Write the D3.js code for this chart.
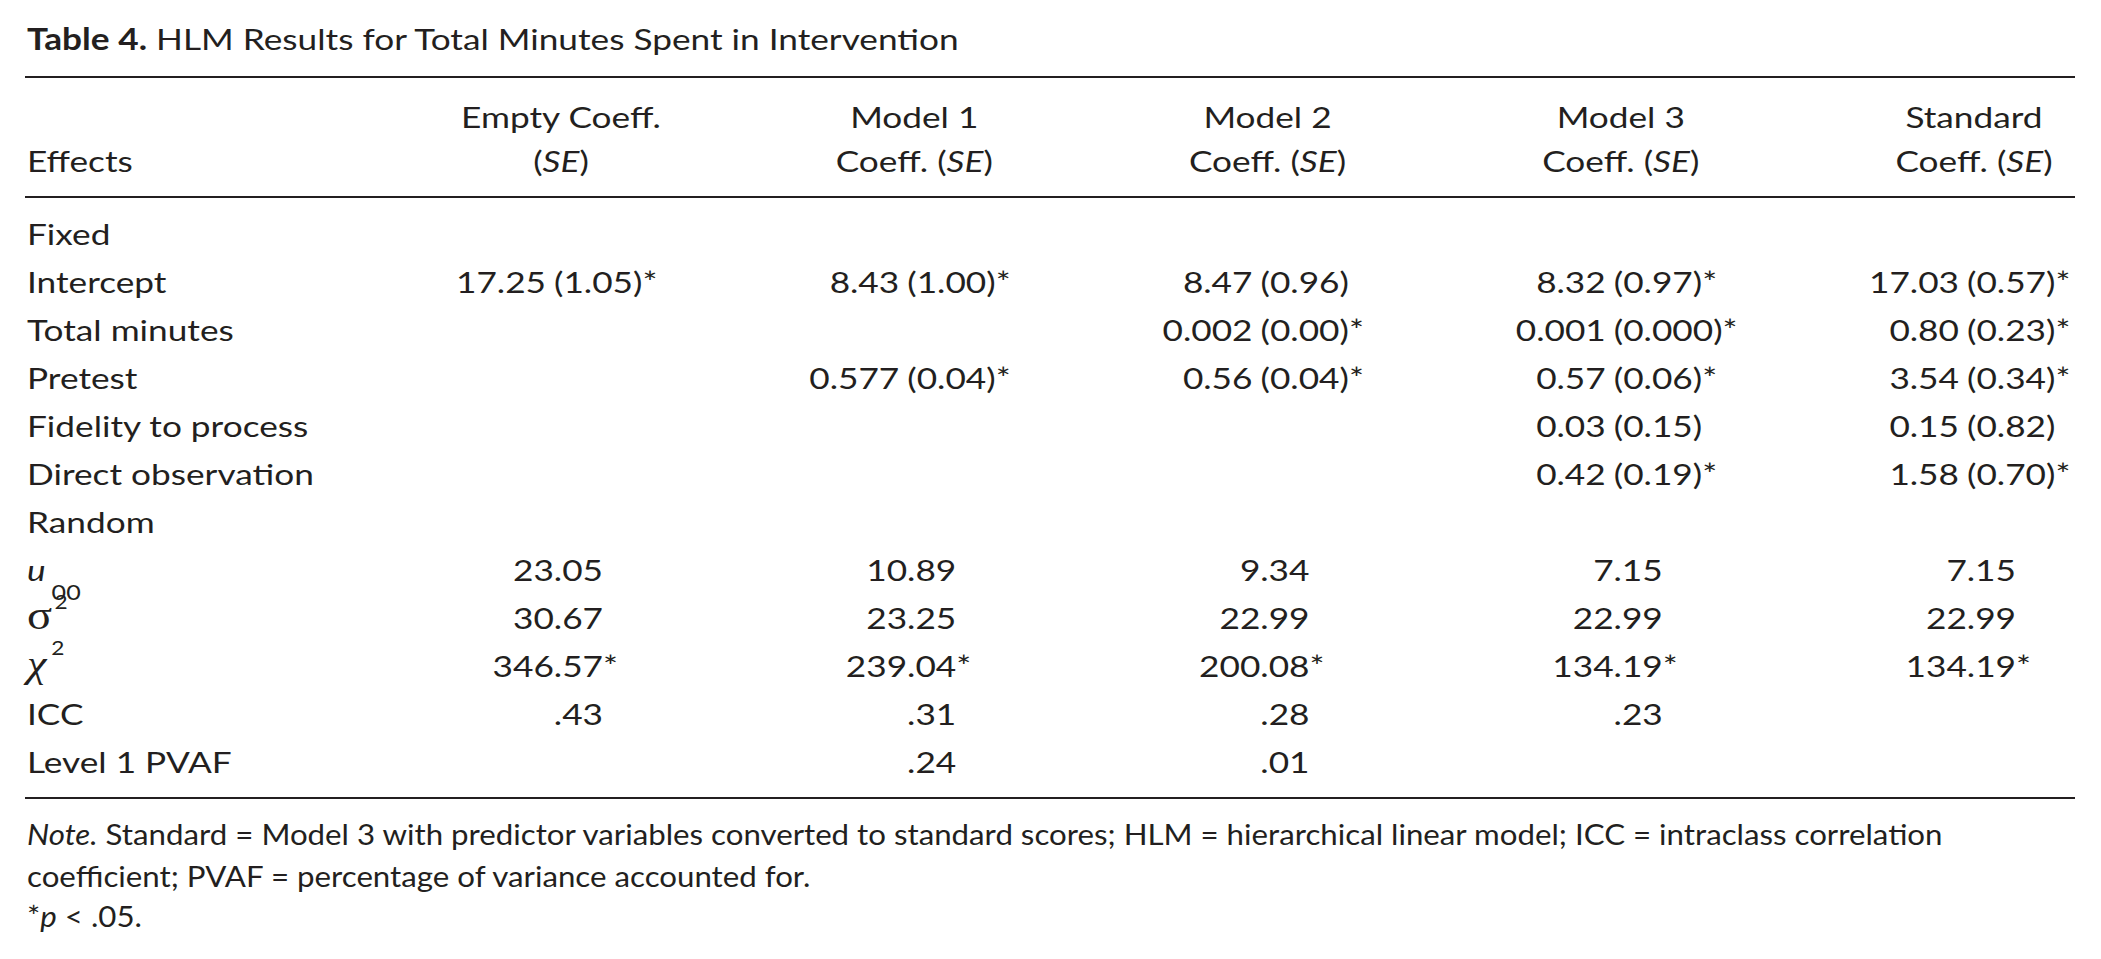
<!DOCTYPE html>
<html><head><meta charset="utf-8">
<script src="https://cdn.jsdelivr.net/npm/d3@7"></script>
<style>
html,body{margin:0;padding:0;background:#fff;}
svg{display:block;}
text{font-family:Lato,"Open Sans",sans-serif;fill:#231f20;}
</style>
</head><body><div id="chart"></div>
<script>
// ---------- data ----------
const titleBold = "Table 4.";
const titleRest = " HLM Results for Total Minutes Spent in Intervention";
const columns = ["Empty", "Model 1", "Model 2", "Model 3", "Standard"];
const headerTop = ["Empty Coeff.", "Model 1", "Model 2", "Model 3", "Standard"];
const headerBottom = ["", "Coeff. ", "Coeff. ", "Coeff. ", "Coeff. "];
const rowKeys = ["Fixed", "Intercept", "Total minutes", "Pretest", "Fidelity to process",
  "Direct observation", "Random", "u00", "sigma2", "chi2", "ICC", "Level 1 PVAF"];
const intercept = ["17.25 (1.05)*", "8.43 (1.00)*", "8.47 (0.96)", "8.32 (0.97)*", "17.03 (0.57)*"];
const totalMinutes = ["", "", "0.002 (0.00)*", "0.001 (0.000)*", "0.80 (0.23)*"];
const pretest = ["", "0.577 (0.04)*", "0.56 (0.04)*", "0.57 (0.06)*", "3.54 (0.34)*"];
const fidelity = ["", "", "", "0.03 (0.15)", "0.15 (0.82)"];
const directObs = ["", "", "", "0.42 (0.19)*", "1.58 (0.70)*"];
const u00 = ["23.05", "10.89", "9.34", "7.15", "7.15"];
const sigma2 = ["30.67", "23.25", "22.99", "22.99", "22.99"];
const chi2 = ["346.57*", "239.04*", "200.08*", "134.19*", "134.19*"];
const icc = [".43", ".31", ".28", ".23", ""];
const pvaf = ["", ".24", ".01", "", ""];
const noteLine1 = " Standard = Model 3 with predictor variables converted to standard scores; HLM = hierarchical linear model; ICC = intraclass correlation";
const noteLine2 = "coefficient; PVAF = percentage of variance accounted for.";

// ---------- layout ----------
const W = 2101, H = 959, FS = 29.5, INK = "#231f20";
const svg = d3.select("#chart").append("svg").attr("width", W).attr("height", H);
svg.append("rect").attr("width", W).attr("height", H).attr("fill", "#fff");

function natural(build) {
  const p = svg.append("text").style("font-size", FS + "px");
  build(p);
  const w = p.node().getComputedTextLength();
  p.remove();
  return w;
}
// horizontal fit factors (reference widths of the title and first note line)
const k = 932 / natural(p => { p.append("tspan").style("font-weight", 700).text(titleBold); p.append("tspan").text(titleRest); });
const kn = 1916 / natural(p => { p.append("tspan").style("font-style", "italic").text("Note."); p.append("tspan").text(noteLine1); });

function put(px, py, anchor, size, kk) {
  return svg.append("text")
    .attr("transform", `translate(${px},${py}) scale(${kk || k},1)`)
    .attr("text-anchor", anchor || "start")
    .style("font-size", (size || FS) + "px");
}

const x = d3.scalePoint().domain(columns).range([561, 1974]);
const y = d3.scalePoint().domain(rowKeys).range([245, 773]);
const left = 27, ruleL = 25, ruleR = 2075;

// title
const t = put(left, 50);
t.append("tspan").style("font-weight", 700).text(titleBold);
t.append("tspan").text(titleRest);

// rules
[77, 197, 798].forEach(ry => svg.append("line")
  .attr("x1", ruleL).attr("x2", ruleR).attr("y1", ry).attr("y2", ry)
  .attr("stroke", INK).attr("stroke-width", 2));

// header
put(left, 172).text("Effects");
columns.forEach((c, i) => {
  put(x(c), 128, "middle").text(headerTop[i]);
  const h = put(x(c), 172, "middle");
  h.append("tspan").text(headerBottom[i] + "(");
  h.append("tspan").style("font-style", "italic").text("SE");
  h.append("tspan").text(")");
});

// row labels
const serif = "'Liberation Serif','DejaVu Serif',serif";
rowKeys.forEach(r => {
  const yy = y(r);
  if (r === "u00") {
    const l = put(left, yy);
    l.append("tspan").style("font-style", "italic").text("u");
    l.append("tspan").attr("dx", 5).attr("dy", 19).style("font-size", "21px").text("00");
  } else if (r === "sigma2") {
    const l = put(left, yy);
    l.append("tspan").style("font-family", serif).style("font-size", "39px").text("σ");
    l.append("tspan").attr("dx", 2).attr("dy", -20).style("font-size", "19px").text("2");
  } else if (r === "chi2") {
    const l = put(left, yy);
    l.append("tspan").style("font-family", serif).style("font-style", "italic").style("font-size", "37px").text("χ");
    l.append("tspan").attr("dx", 4).attr("dy", -22).style("font-size", "19px").text("2");
  } else {
    put(left, yy).text(r);
  }
});

// fixed effects: align on the opening parenthesis
const fixedRows = [["Intercept", intercept], ["Total minutes", totalMinutes], ["Pretest", pretest],
  ["Fidelity to process", fidelity], ["Direct observation", directObs]];
fixedRows.forEach(([key, vals]) => vals.forEach((v, i) => {
  if (!v) return;
  const m = v.match(/^(\S+) (\(.+\)\*?)$/);
  const ax = x(columns[i]) - 7;
  put(ax - 8, y(key), "end").text(m[1]);
  put(ax, y(key), "start").text(m[2]);
}));

// random effects: numbers right-aligned, asterisk hanging
const randRows = [["u00", u00], ["sigma2", sigma2], ["chi2", chi2], ["ICC", icc], ["Level 1 PVAF", pvaf]];
randRows.forEach(([key, vals]) => vals.forEach((v, i) => {
  if (!v) return;
  const star = v.endsWith("*");
  const num = star ? v.slice(0, -1) : v;
  const ax = x(columns[i]) + 42;
  put(ax, y(key), "end").text(num);
  if (star) put(ax, y(key), "start").text("*");
}));

// note
const n1 = put(left, 845, "start", FS, kn);
n1.append("tspan").style("font-style", "italic").text("Note.");
n1.append("tspan").text(noteLine1);
put(left, 887, "start", FS, kn).text(noteLine2);
const n3 = put(left, 927, "start", FS, kn);
n3.append("tspan").text("*");
n3.append("tspan").style("font-style", "italic").text("p");
n3.append("tspan").text(" < .05.");
</script>
</body></html>
